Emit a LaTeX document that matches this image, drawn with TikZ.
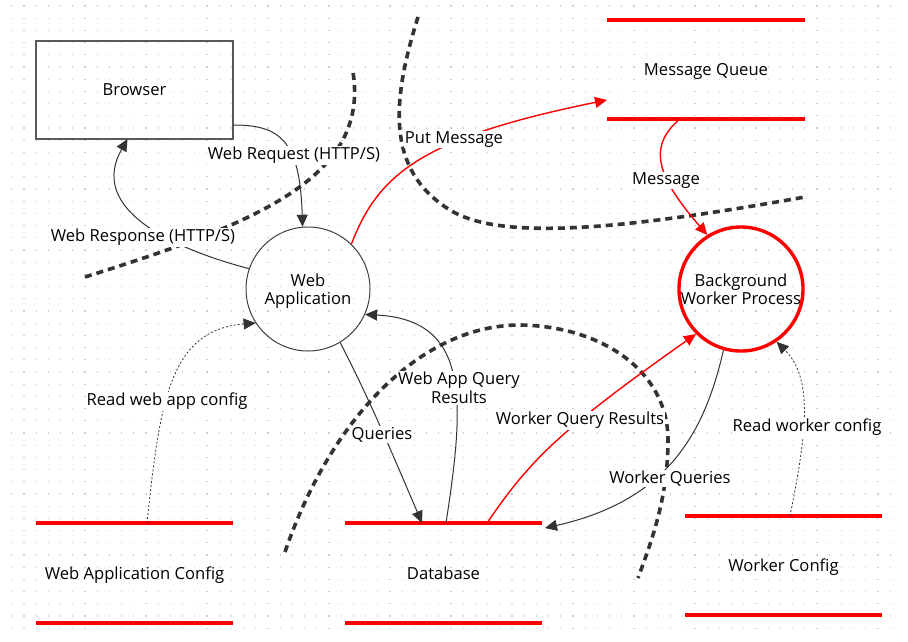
\documentclass[tikz,border=0pt]{standalone}
\usepackage{fontspec}
\setmainfont{Open Sans}
\usetikzlibrary{arrows.meta}
\definecolor{linec}{HTML}{333333}
\definecolor{gridc}{HTML}{CFCFCF}
\definecolor{redc}{HTML}{FF0000}
\begin{document}
\begin{tikzpicture}[x=1pt,y=-1pt,
  every node/.style={font=\fontsize{16.6}{18.5}\selectfont, text=black, align=center},
  tip/.style={-{Triangle[length=12pt,width=11pt]}},
  conn/.style={draw=linec, line width=1pt, tip},
  redconn/.style={draw=redc, line width=1.4pt, tip},
  dotconn/.style={draw=linec, line width=0.8pt, dash pattern=on 2pt off 2pt, -{Triangle[length=12pt,width=11pt,fill=linec]}},
  boundary/.style={draw=linec, line width=3.6pt, dash pattern=on 7pt off 5pt},
  actor/.style={draw=black!65, line width=1.4pt, rectangle, minimum width=197pt, minimum height=98pt, inner sep=0pt, outer sep=0pt, text depth=0pt},
  proc/.style={draw=black!75, line width=1pt, circle, minimum size=124pt, inner sep=0pt, text depth=0pt},
  procred/.style={draw=redc, line width=3.4pt, circle, minimum size=122pt, inner sep=0pt, text depth=0pt},
  store/.style={rectangle, minimum width=197pt, inner sep=0pt, outer sep=0pt, text depth=0pt},
  storeline/.style={draw=redc, line width=3.4pt},
  lbl/.style={fill=white, inner sep=1pt}]
\useasboundingbox (0,0) rectangle (908,642);
\fill[white] (0,0) rectangle (908,642);
% dot grid
\foreach \j in {0,...,51} {
  \draw[gridc, line width=1.2pt, dash pattern=on 1.2pt off 11pt] (11.1,6+\j*12.2) -- (892,6+\j*12.2);
}
% trust boundaries
\draw[boundary] (85,277) .. controls (250,225) and (370,180) .. (353,72);
\draw[boundary] (418,17) .. controls (392,100) and (385,170) .. (450,210)
                .. controls (500,241) and (620,230) .. (805,197);
\draw[boundary] (285,552) .. controls (330,420) and (420,325) .. (520,325)
                .. controls (600,326) and (668,370) .. (668,440)
                .. controls (668,500) and (650,545) .. (638,578);
% nodes
\node[actor] (browser) at (134.5,90) {Browser};
\node[proc] (webapp) at (308,289) {Web\\Application};
\node[procred] (worker) at (741,289) {Background\\Worker Process};
\node[store, minimum width=198pt, minimum height=99pt] (mq) at (706,69.5) {Message Queue};
\node[store, minimum height=100pt] (wac) at (134.5,573) {Web Application Config};
\node[store, minimum height=100pt] (db) at (443.5,573) {Database};
\node[store, minimum height=99pt] (wc) at (783.5,565.5) {Worker Config};
\foreach \n in {mq,wac,db,wc} {
  \draw[storeline] (\n.north west) -- (\n.north east) (\n.south west) -- (\n.south east);
}
% connectors
\draw[conn] ([yshift=14pt]browser.south east) .. controls (280,125) and (300,140) .. (webapp.95);
\draw[conn] (webapp.161) .. controls (160,245) and (90,205) .. ([xshift=-7pt]browser.south);
\draw[redconn] (webapp.46) .. controls (378,175) and (420,138) .. ([yshift=19pt]mq.south west);
\draw[redconn] ([xshift=-26pt]mq.south) .. controls (645,148) and (660,180) .. (worker.122);
\draw[conn] (webapp.-59) .. controls (370,400) and (395,460) .. ([xshift=-21.5pt]db.north);
\draw[conn] ([xshift=2.5pt]db.north) .. controls (465,400) and (470,320) .. (webapp.-24);
\draw[redconn] ([xshift=43.5pt]db.north) .. controls (530,460) and (560,430) .. (worker.-135);
\draw[conn] (worker.-106) .. controls (705,430) and (670,500) .. ([shift={(3pt,-5pt)}]db.north east);
\draw[dotconn] ([xshift=12.5pt]wac.north) .. controls (160,400) and (170,330) .. (webapp.-147);
\draw[dotconn] ([xshift=6.5pt]wc.north) .. controls (805,440) and (815,380) .. (worker.-56);
% labels
\node[lbl] (lreq) at (294,155.5) {Web Request (HTTP/S)};
\node[lbl] (lresp) at (143,237.5) {Web Response (HTTP/S)};
\node[lbl] (lput) at (454,139.5) {Put Message};
\node[lbl] (lmsg) at (666,180.5) {Message};
\node[lbl] (lrwa) at (167,401.5) {Read web app config};
\node[lbl] (lq) at (382,434.5) {Queries};
\node[lbl] (lwaqr) at (459,388) {Web App Query\\Results};
\node[lbl] (lwqr) at (580,420.5) {Worker Query Results};
\node[lbl] (lwq) at (670,478.5) {Worker Queries};
\node[lbl] (lrwc) at (807,427.5) {Read worker config};
\end{tikzpicture}
\end{document}
